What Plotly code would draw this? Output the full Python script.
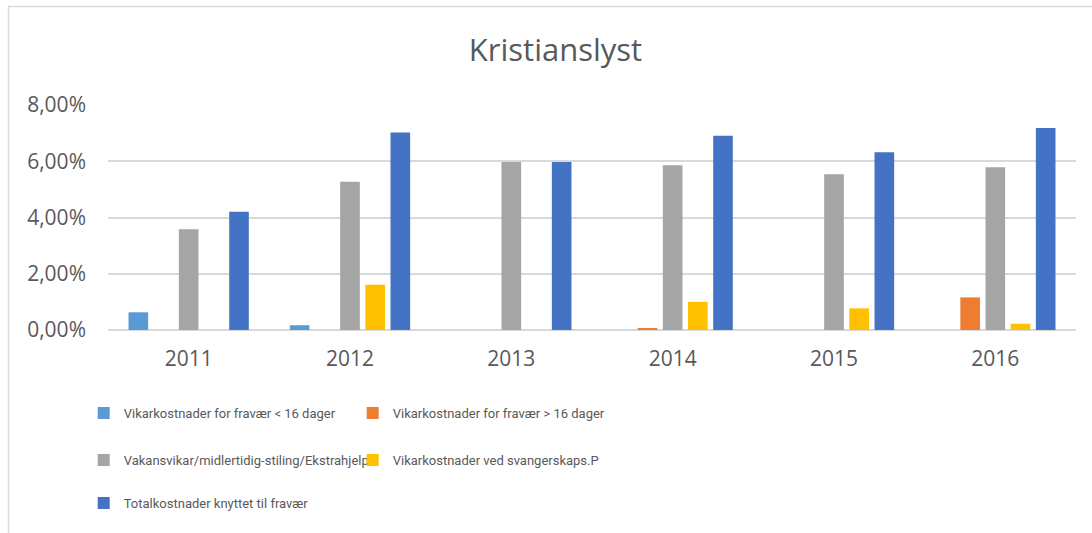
import plotly.graph_objects as go

years = ["2011", "2012", "2013", "2014", "2015", "2016"]

series_names = [
    "Vikarkostnader for fravær < 16 dager",
    "Vikarkostnader for fravær > 16 dager",
    "Vakansvikar/midlertidig-stiling/Ekstrahjelp",
    "Vikarkostnader ved svangerskaps.P",
    "Totalkostnader knyttet til fravær",
]

# values as fractions (shown as %)
under_16 = [0.0063, 0.0017, 0.0, 0.0, 0.0, 0.0]
over_16 = [0.0, 0.0, 0.0, 0.0007, 0.0, 0.0116]
vakans = [0.0358, 0.0527, 0.0597, 0.0586, 0.0554, 0.0579]
svangerskap = [0.0, 0.0161, 0.0, 0.0100, 0.0077, 0.0022]
total = [0.0420, 0.0702, 0.0597, 0.0691, 0.0632, 0.0718]

colors = ["#5B9BD5", "#ED7D31", "#A5A5A5", "#FFC000", "#4472C4"]
legend_ids = ["legend", "legend", "legend2", "legend2", "legend3"]

TEXT = "#595959"

fig = go.Figure()
for name, vals, color, lg in zip(
    series_names, [under_16, over_16, vakans, svangerskap, total], colors, legend_ids
):
    fig.add_trace(
        go.Bar(
            x=years,
            y=vals,
            name=name,
            marker=dict(color=color, line=dict(width=0)),
            legend=lg,
        )
    )

legend_style = dict(
    orientation="h",
    xanchor="left",
    yanchor="middle",
    x=-0.0251,
    entrywidth=224,
    entrywidthmode="pixels",
    font=dict(family="Roboto", size=13, color=TEXT),
    bgcolor="rgba(0,0,0,0)",
    itemclick=False,
)

fig.update_layout(
    width=1092,
    height=533,
    margin=dict(l=108, r=16, t=105, b=203),
    paper_bgcolor="white",
    plot_bgcolor="white",
    separators=", ",
    barmode="group",
    bargap=0.22,
    bargroupgap=0.22,
    title=dict(
        text="Kristianslyst",
        xref="container",
        x=0.5087,
        xanchor="center",
        y=0.905,
        yanchor="middle",
        font=dict(family="Open Sans", size=31, color=TEXT),
    ),
    font=dict(family="Open Sans", color=TEXT),
    legend=dict(legend_style, y=-0.369),
    legend2=dict(legend_style, y=-0.578),
    legend3=dict(legend_style, y=-0.769),
    xaxis=dict(
        showgrid=False,
        showline=False,
        ticks="",
        ticklabelstandoff=14,
        tickfont=dict(family="Open Sans", size=21, color=TEXT),
    ),
    yaxis=dict(
        range=[0, 0.08],
        dtick=0.02,
        tickformat=".2%",
        gridcolor="#D9D9D9",
        gridwidth=1.5,
        zeroline=True,
        zerolinecolor="#D9D9D9",
        zerolinewidth=1.5,
        showline=False,
        ticks="",
        ticklabelstandoff=21,
        tickfont=dict(family="Open Sans", size=21, color=TEXT),
    ),
    shapes=[
        dict(
            type="rect",
            xref="paper",
            yref="paper",
            x0=-0.1028,
            x1=1.1,
            y0=-1.2,
            y1=1.438,
            line=dict(color="#D9D9D9", width=1.5),
            fillcolor="rgba(0,0,0,0)",
            layer="below",
        )
    ],
)

fig.write_html(
    "out.html",
    config={"displayModeBar": False},
    post_script="document.body.style.margin = '0';",
)
